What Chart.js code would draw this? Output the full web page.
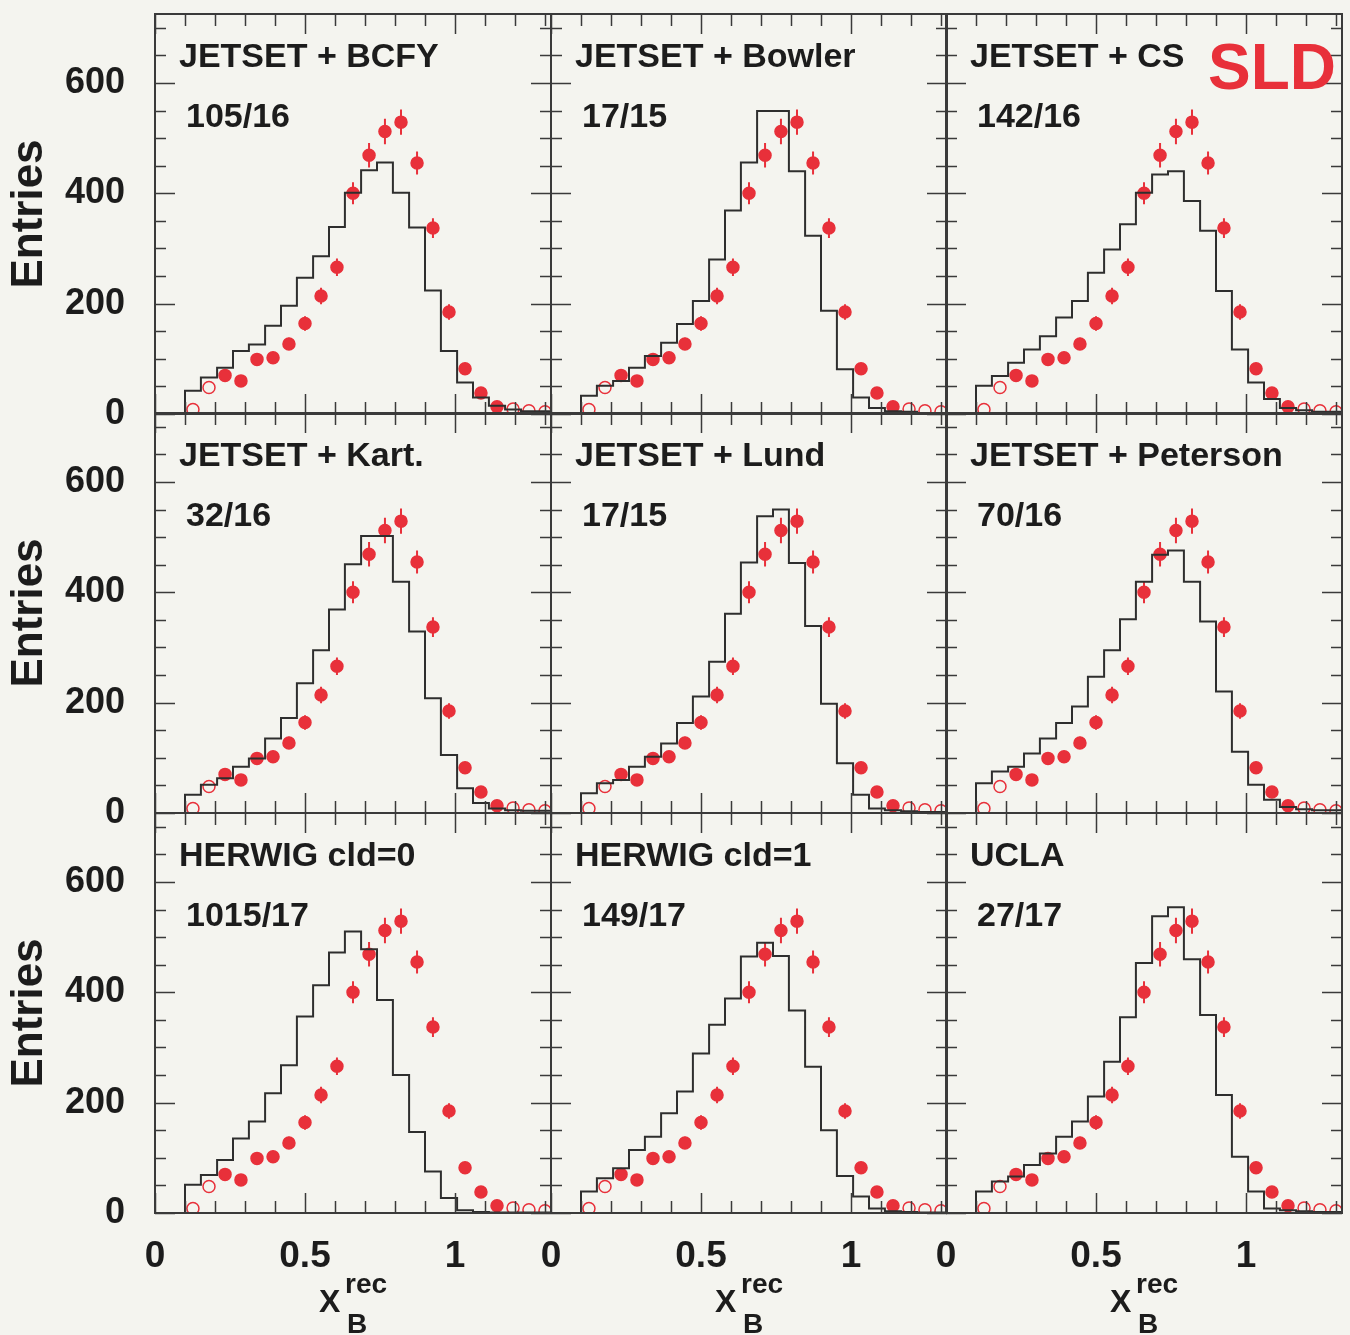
<!DOCTYPE html>
<html>
<head>
<meta charset="utf-8">
<script src="https://cdn.jsdelivr.net/npm/chart.js@4.4.0/dist/chart.umd.min.js"></script>
<style>
  html, body { margin: 0; padding: 0; background: #f4f4ef; overflow: hidden; }
  #wrap { position: relative; width: 1350px; height: 1335px; }
  #wrap canvas { position: absolute; }
</style>
</head>
<body>
<div id="wrap"></div>
<script>
// bin edges of x_B^rec (23 bins)
const xEdges = [0.100, 0.153, 0.207, 0.260, 0.313, 0.367, 0.420, 0.473, 0.527, 0.580, 0.633, 0.687,
                0.740, 0.793, 0.847, 0.900, 0.953, 1.007, 1.060, 1.113, 1.167, 1.220, 1.273, 1.327];

// SLD data (same in every panel)
const dataCounts = [8, 48, 70, 60, 99, 102, 127, 164, 214, 266, 400, 469, 512, 529, 455, 337, 185, 82, 38, 13, 9, 6, 4];
const dataErrors = [3, 7, 8, 8, 10, 10, 11, 13, 15, 16, 20, 22, 23, 23, 21, 18, 14, 9, 6, 4, 3, 2, 2];
const openBins = [0, 1, 20, 21, 22];

// simulation histograms
const mcBCFY     = [5, 42, 66, 84, 114, 126, 160, 196, 247, 286, 339, 401, 442, 456, 401, 338, 224, 114, 57, 30, 15, 8, 5];
const mcBowler   = [5, 33, 51, 60, 84, 105, 129, 163, 205, 280, 369, 456, 549, 549, 440, 323, 187, 81, 30, 11, 5, 4, 2];
const mcCS       = [5, 51, 69, 93, 117, 141, 175, 205, 256, 298, 344, 401, 434, 440, 386, 332, 223, 117, 57, 27, 11, 7, 4];
const mcKart     = [5, 33, 51, 63, 84, 99, 135, 172, 235, 295, 369, 451, 502, 502, 419, 329, 208, 105, 45, 18, 8, 5, 4];
const mcLund     = [5, 36, 54, 60, 84, 102, 126, 163, 211, 274, 361, 454, 538, 550, 453, 339, 198, 90, 33, 8, 5, 3, 2];
const mcPeterson = [8, 54, 75, 84, 108, 135, 163, 193, 247, 295, 351, 419, 468, 476, 419, 347, 220, 111, 51, 24, 11, 7, 5];
const mcHerwig0  = [8, 51, 69, 96, 135, 166, 217, 268, 356, 413, 472, 510, 478, 386, 250, 147, 75, 27, 5, 2, 1, 1, 1];
const mcHerwig1  = [5, 39, 63, 81, 114, 138, 181, 220, 289, 341, 389, 465, 490, 466, 367, 265, 150, 67, 30, 8, 3, 2, 1];
const mcUCLA     = [8, 39, 57, 66, 87, 108, 138, 166, 211, 274, 355, 453, 538, 554, 460, 359, 214, 102, 39, 8, 5, 3, 2];

const panelNames = ['JETSET + BCFY', 'JETSET + Bowler', 'JETSET + CS',
                    'JETSET + Kart.', 'JETSET + Lund', 'JETSET + Peterson',
                    'HERWIG cld=0', 'HERWIG cld=1', 'UCLA'];
const chiLabels = ['105/16', '17/15', '142/16', '32/16', '17/15', '70/16', '1015/17', '149/17', '27/17'];
const mcSeries = [mcBCFY, mcBowler, mcCS, mcKart, mcLund, mcPeterson, mcHerwig0, mcHerwig1, mcUCLA];

const xTickValues = [0, 0.5, 1];
const yTickValues = [0, 200, 400, 600];
const xMax = 1.32;
const yMax = 725;

const FONT = "'Liberation Sans', Arial, Helvetica, sans-serif";
const RED = '#e8303a';
const BG = '#f4f4ef';

// page layout
const colLeft = [155, 551, 946];
const rowTop = [14, 413, 813];
const panelW = 396, panelH = 400;
const axisW = 155, axisH = 122, padTop = 14, padRight = 10;

function noPad(s) {
    s.paddingTop = 0; s.paddingBottom = 0;
    s.paddingLeft = 0; s.paddingRight = 0;
}

// frame with ROOT-style inner ticks
const frameTicks = {
    id: 'frameTicks',
    afterDatasetsDraw(chart) {
        const { ctx, chartArea: ca, scales: { x, y } } = chart;
        ctx.save();
        ctx.strokeStyle = '#3a3a3a';
        ctx.lineWidth = 1.5;
        ctx.beginPath();
        for (let v = 0; v < xMax; v += 0.1) {
            const major = xTickValues.some(t => Math.abs(t - v) < 1e-6);
            const len = major ? 20 : 12;
            const px = Math.round(x.getPixelForValue(v)) + 0.5;
            ctx.moveTo(px, ca.bottom); ctx.lineTo(px, ca.bottom - len);
            ctx.moveTo(px, ca.top); ctx.lineTo(px, ca.top + len);
        }
        for (let v = 0; v < yMax; v += 50) {
            const major = yTickValues.includes(v);
            const len = major ? 20 : 11;
            const py = Math.round(y.getPixelForValue(v)) + 0.5;
            ctx.moveTo(ca.left, py); ctx.lineTo(ca.left + len, py);
            ctx.moveTo(ca.right, py); ctx.lineTo(ca.right - len, py);
        }
        ctx.stroke();
        ctx.lineWidth = 2;
        ctx.strokeRect(ca.left, ca.top, ca.right - ca.left, ca.bottom - ca.top);
        ctx.restore();
    }
};

// vertical error bars on the data points
const errorBars = {
    id: 'errorBars',
    beforeDatasetsDraw(chart) {
        const { ctx, scales: { x, y } } = chart;
        ctx.save();
        ctx.strokeStyle = RED;
        ctx.lineWidth = 2;
        ctx.beginPath();
        dataCounts.forEach((v, i) => {
            const px = x.getPixelForValue((xEdges[i] + xEdges[i + 1]) / 2);
            ctx.moveTo(px, y.getPixelForValue(v - dataErrors[i]));
            ctx.lineTo(px, y.getPixelForValue(v + dataErrors[i]));
        });
        ctx.stroke();
        ctx.restore();
    }
};

// panel labels, SLD logo, x axis title
const panelText = {
    id: 'panelText',
    afterDraw(chart) {
        const { ctx, chartArea: ca } = chart;
        const o = chart.options.plugins.panelText;
        ctx.save();
        ctx.fillStyle = '#1c1c1c';
        ctx.textBaseline = 'middle';
        ctx.font = 'bold 34px ' + FONT;
        ctx.fillText(panelNames[o.index], ca.left + 24, ca.top + 44);
        ctx.fillText(chiLabels[o.index], ca.left + 31, ca.top + 104);
        if (o.index === 2) {
            ctx.fillStyle = RED;
            ctx.textAlign = 'right';
            ctx.font = 'bold 64px ' + FONT;
            ctx.fillText('SLD', ca.right - 6, ca.top + 57);
            ctx.textAlign = 'left';
        }
        if (o.bottom) {
            ctx.fillStyle = '#1c1c1c';
            ctx.textBaseline = 'alphabetic';
            ctx.font = 'bold 32px ' + FONT;
            ctx.fillText('X', ca.left + 164, ca.bottom + 99);
            ctx.font = 'bold 28px ' + FONT;
            ctx.fillText('rec', ca.left + 190, ca.bottom + 80);
            ctx.fillText('B', ca.left + 192, ca.bottom + 120);
        }
        ctx.restore();
    }
};

const wrap = document.getElementById('wrap');

for (let k = 0; k < 9; k++) {
    const r = Math.floor(k / 3), c = k % 3;
    const canvas = document.createElement('canvas');
    canvas.width = axisW + panelW + padRight;
    canvas.height = padTop + panelH + axisH;
    canvas.style.left = (colLeft[c] - axisW) + 'px';
    canvas.style.top = (rowTop[r] - padTop) + 'px';
    wrap.appendChild(canvas);

    const mc = mcSeries[k];
    const stepPoints = [{ x: xEdges[0], y: 0 }];
    mc.forEach((v, i) => stepPoints.push({ x: xEdges[i], y: v }));
    stepPoints.push({ x: xEdges[mc.length], y: mc[mc.length - 1] });

    const dataPoints = dataCounts.map((v, i) => ({ x: (xEdges[i] + xEdges[i + 1]) / 2, y: v }));
    const fills = dataCounts.map((v, i) => openBins.includes(i) ? BG : RED);

    new Chart(canvas, {
        type: 'scatter',
        data: {
            datasets: [{
                type: 'line',
                data: stepPoints,
                stepped: 'after',
                showLine: true,
                borderColor: '#2e2e2e',
                borderWidth: 2,
                pointRadius: 0,
                fill: false
            }, {
                data: dataPoints,
                pointRadius: 6,
                pointBackgroundColor: fills,
                pointBorderColor: RED,
                pointBorderWidth: 1.5
            }]
        },
        options: {
            responsive: false,
            animation: false,
            devicePixelRatio: 1,
            layout: { padding: { top: padTop, right: padRight, left: 0, bottom: 0 } },
            plugins: {
                legend: { display: false },
                tooltip: { enabled: false },
                panelText: { index: k, bottom: r === 2 }
            },
            scales: {
                x: {
                    type: 'linear',
                    min: 0,
                    max: xMax,
                    grid: { display: false, drawTicks: false, tickLength: 0 },
                    border: { display: false },
                    afterFit: s => { s.height = axisH; noPad(s); },
                    afterBuildTicks: s => { s.ticks = xTickValues.map(v => ({ value: v })); },
                    ticks: {
                        display: r === 2,
                        padding: 22,
                        maxRotation: 0,
                        color: '#1c1c1c',
                        font: { family: FONT, size: 37, weight: 'bold' },
                        callback: v => String(v)
                    }
                },
                y: {
                    min: 0,
                    max: yMax,
                    grid: { display: false, drawTicks: false, tickLength: 0 },
                    border: { display: false },
                    afterFit: s => { s.width = axisW; noPad(s); },
                    afterBuildTicks: s => { s.ticks = yTickValues.map(v => ({ value: v })); },
                    ticks: {
                        display: c === 0,
                        padding: 30,
                        color: '#1c1c1c',
                        font: { family: FONT, size: 36, weight: 'bold' }
                    },
                    title: {
                        display: c === 0,
                        text: 'Entries',
                        color: '#1c1c1c',
                        padding: { top: 8, bottom: 0 },
                        font: { family: FONT, size: 44, weight: 'bold', lineHeight: 1 }
                    }
                }
            }
        },
        plugins: [errorBars, frameTicks, panelText]
    });
}
</script>
</body>
</html>
